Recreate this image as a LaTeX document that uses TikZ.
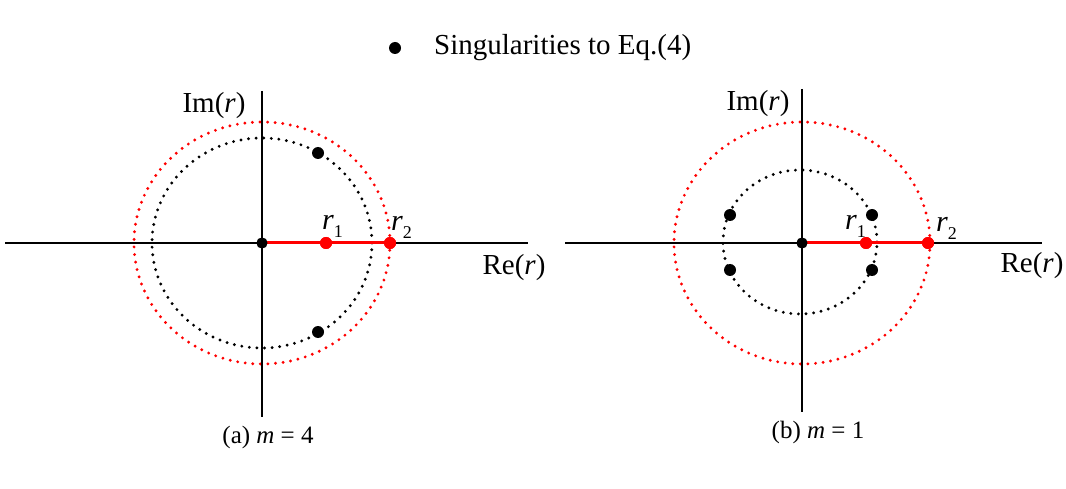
\documentclass[tikz,border=0pt]{standalone}
\usepackage{fontspec}
\setmainfont{Liberation Serif}
\newcommand\rlab[1]{{\fontsize{30}{30}\selectfont\textit{r}}\raisebox{-8pt}{\fontsize{18}{18}\selectfont #1}}
\begin{document}
\begin{tikzpicture}[x=1pt,y=-1pt,
  axisline/.style={line width=2.6pt,black},
  redseg/.style={line width=3pt,red},
  reddots/.style={red,line width=3.2pt,line cap=round,dash pattern=on 0pt off 7.6pt},
  blackdots/.style={black,line width=3.2pt,line cap=round,dash pattern=on 0pt off 7.6pt},
  sing/.style={circle,fill=black,inner sep=0pt,minimum size=12pt},
  origin/.style={circle,fill=black,inner sep=0pt,minimum size=11pt},
  rpt/.style={circle,fill=red,inner sep=0pt,minimum size=12pt},
  lab/.style={inner sep=0pt,font=\fontsize{29}{29}\selectfont},
  captxt/.style={inner sep=0pt,font=\fontsize{25}{25}\selectfont},
  sublab/.style={inner sep=0pt,anchor=base west}]
\useasboundingbox (0,0) rectangle (1066,489);
% legend
\node[sing] (legdot) at (395,48) {};
\node[inner sep=0pt,anchor=west,font=\fontsize{29}{29}\selectfont] (legtxt) at (434,48) {Singularities to Eq.(4)};
% ---------- panel (a) ----------
\coordinate (aL) at (5,243);
\coordinate (aR) at (528,243);
\coordinate (aT) at (262,91);
\coordinate (aB) at (262,417);
\draw[reddots] (262,243) ellipse [x radius=128pt, y radius=121pt];
\draw[blackdots] (262,243) ellipse [x radius=110pt, y radius=105pt];
\draw[axisline] (aL) -- (aR);
\draw[axisline] (aT) -- (aB);
\node[origin] (aO) at (262,243) {};
\node[rpt] (ar1) at (326,243) {};
\node[rpt] (ar2) at (390,243) {};
\draw[redseg] (aO.center) -- (ar2.center);
\node[rpt] at (ar1) {};
\node[rpt] at (ar2) {};
\node[origin] at (aO) {};
\node[sing] (as1) at (318,153) {};
\node[sing] (as2) at (318,332) {};
\node[sublab] (ar1lab) at (322,230) {\rlab{1}};
\node[sublab] (ar2lab) at (391,231) {\rlab{2}};
\node[lab] (aim) at (214,106) {Im(\textit{r})};
\node[lab] (are) at (514,268) {Re(\textit{r})};
\node[captxt] (acap) at (268,437) {(a) \textit{m} = 4};
% ---------- panel (b) ----------
\coordinate (bL) at (565,243);
\coordinate (bR) at (1042,243);
\coordinate (bT) at (802,89);
\coordinate (bB) at (802,412);
\draw[reddots] (802,243) ellipse [x radius=128pt, y radius=121pt];
\draw[blackdots] (800,242) ellipse [x radius=77pt, y radius=72pt];
\draw[axisline] (bL) -- (bR);
\draw[axisline] (bT) -- (bB);
\node[origin] (bO) at (802,243) {};
\node[rpt] (br1) at (866,243) {};
\node[rpt] (br2) at (928,243) {};
\draw[redseg] (bO.center) -- (br2.center);
\node[rpt] at (br1) {};
\node[rpt] at (br2) {};
\node[origin] at (bO) {};
\node[sing] (bs1) at (730,215) {};
\node[sing] (bs2) at (730,270) {};
\node[sing] (bs3) at (872,215) {};
\node[sing] (bs4) at (872,270) {};
\node[sublab] (br1lab) at (845,230) {\rlab{1}};
\node[sublab] (br2lab) at (936,232) {\rlab{2}};
\node[lab] (bim) at (758,104) {Im(\textit{r})};
\node[lab] (bre) at (1032,266) {Re(\textit{r})};
\node[captxt] (bcap) at (818,432) {(b) \textit{m} = 1};
\end{tikzpicture}
\end{document}
